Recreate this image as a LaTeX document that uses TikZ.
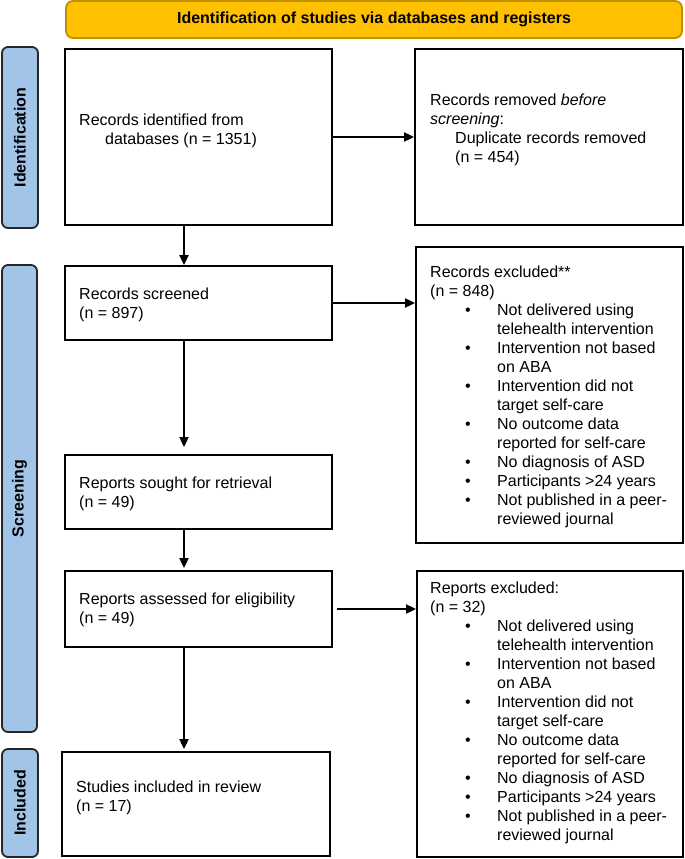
\documentclass[tikz,border=0pt]{standalone}
\usepackage{fontspec}
\setmainfont{Liberation Sans}
\usetikzlibrary{arrows.meta}
\definecolor{hdrfill}{HTML}{FFC000}
\definecolor{hdrline}{HTML}{BF9000}
\definecolor{lblfill}{HTML}{A2C4E8}
\newcommand\bulitem[1]{\hspace*{35pt}\makebox[32pt][l]{•}#1}
\newcommand\contitem[1]{\hspace*{67pt}#1}
\newcommand\exclusionlist{%
\bulitem{Not delivered using}\\
\contitem{telehealth intervention}\\
\bulitem{Intervention not based}\\
\contitem{on ABA}\\
\bulitem{Intervention did not}\\
\contitem{target self-care}\\
\bulitem{No outcome data}\\
\contitem{reported for self-care}\\
\bulitem{No diagnosis of ASD}\\
\bulitem{Participants >24 years}\\
\bulitem{Not published in a peer-}\\
\contitem{reviewed journal}}
\begin{document}
\begin{tikzpicture}[x=1pt,y=-1pt,
  box/.style={draw=black, line width=1.8pt, fill=white, inner sep=0pt},
  hdr/.style={draw=hdrline, line width=1.8pt, fill=hdrfill, rounded corners=7pt, inner sep=0pt,
    font=\fontsize{16}{19}\selectfont\bfseries},
  lbl/.style={draw=black!85, line width=1.8pt, fill=lblfill, rounded corners=6pt, inner sep=0pt,
    rotate=90, font=\fontsize{16}{19}\selectfont\bfseries},
  txt/.style={anchor=north west, inner sep=0pt, align=left, font=\fontsize{16}{19}\selectfont},
  arr/.style={line width=1.8pt, -{Triangle[length=10pt,width=9pt]}}]
\useasboundingbox (0,0) rectangle (685,859);

% header
\node[hdr, minimum width=616, minimum height=37] (head) at (374,19.5)
  {Identification of studies via databases and registers};

% phase labels
\node[lbl, minimum width=181, minimum height=36] (idl) at (20,137.5) {Identification};
\node[lbl, minimum width=467, minimum height=35] (scl) at (19.5,498.5) {Screening};
\node[lbl, minimum width=108, minimum height=36] (inl) at (20,803) {Included};

% boxes
\node[box, minimum width=267, minimum height=176] (b1) at (198.5,137) {};
\node[box, minimum width=268, minimum height=176] (rem) at (549,137) {};
\node[box, minimum width=267, minimum height=74] (scr) at (198.5,303) {};
\node[box, minimum width=267, minimum height=296] (exc1) at (549.5,395) {};
\node[box, minimum width=267, minimum height=74] (sou) at (198.5,492) {};
\node[box, minimum width=267, minimum height=76] (ass) at (198.5,609) {};
\node[box, minimum width=266, minimum height=286] (exc2) at (550,714) {};
\node[box, minimum width=268, minimum height=104] (stu) at (196,804) {};

% texts
\node[txt] (t1) at (79,114) {Records identified from\\\hspace*{26pt}databases (n = 1351)};
\node[txt] (trem) at (430,94) {Records removed \textit{before}\\\textit{screening}:\\
  \hspace*{25pt}Duplicate records removed\\\hspace*{25pt}(n = 454)};
\node[txt] (tscr) at (79,288) {Records screened\\(n = 897)};
\node[txt] (texc1) at (430,266) {Records excluded**\\(n = 848)\\\exclusionlist};
\node[txt] (tsou) at (79,477) {Reports sought for retrieval\\(n = 49)};
\node[txt] (tass) at (79,593) {Reports assessed for eligibility\\(n = 49)};
\node[txt] (texc2) at (430,582) {Reports excluded:\\(n = 32)\\\exclusionlist};
\node[txt] (tstu) at (76,781) {Studies included in review\\(n = 17)};

% connectors
\coordinate (vx) at (184,0);
\draw[arr] (vx |- b1.south) -- (vx |- scr.north);
\draw[arr, shorten >=7pt] (vx |- scr.south) -- (vx |- sou.north);
\draw[arr, shorten >=2pt] (vx |- sou.south) -- (vx |- ass.north);
\draw[arr, shorten >=2pt] (vx |- ass.south) -- (vx |- stu.north);
\draw[arr] (b1.east) -- (b1.east -| rem.west);
\draw[arr] (scr.east) -- (scr.east -| exc1.west);
\draw[arr, shorten <=4pt] (ass.east) -- (ass.east -| exc2.west);
\end{tikzpicture}
\end{document}
